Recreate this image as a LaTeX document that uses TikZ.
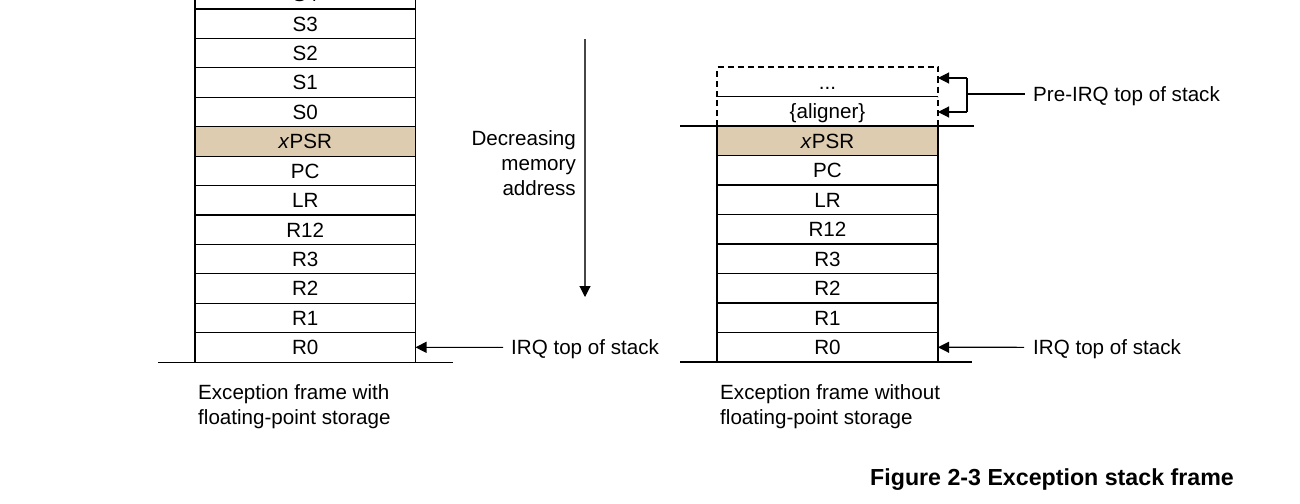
\documentclass[tikz,border=0pt]{standalone}
\usepackage{fontspec}
\setmainfont{Liberation Sans}
\usetikzlibrary{arrows.meta}
\definecolor{psr}{RGB}{221,204,176}
\definecolor{shaft}{RGB}{70,70,70}
\begin{document}
\begin{tikzpicture}[x=1pt,y=-1pt,
  txt/.style={font=\fontsize{20.6}{25}\selectfont},
  cell/.style={txt,draw=black,line width=1.1pt,minimum width=220.5pt,minimum height=29.45pt,inner sep=0pt,outer sep=0pt,text height=14.7pt,text depth=0pt},
  ghost/.style={txt,minimum width=221pt,minimum height=29.5pt,inner sep=0pt,outer sep=0pt,text height=14.7pt,text depth=0pt},
  lbl/.style={txt,inner sep=0pt,text height=14.7pt,text depth=0pt},
  multi/.style={txt,inner sep=0pt},
  dashline/.style={line width=1.1pt,dash pattern=on 6pt off 4pt},
  base/.style={line width=1.1pt},
  arr/.style={line width=1.1pt,-{Triangle[length=11pt,width=11pt]}}]
\useasboundingbox (0,0) rectangle (1300,503);
\clip (0,0) rectangle (1300,503);
% left stack
\node[cell] (lS4) at (305.25,-5.71) {S4};
\node[cell] (lS3) at (305.25,23.71) {S3};
\node[cell] (lS2) at (305.25,53.13) {S2};
\node[cell] (lS1) at (305.25,82.55) {S1};
\node[cell] (lS0) at (305.25,111.97) {S0};
\node[cell,fill=psr] (lPSR) at (305.25,141.39) {\textit{x}PSR};
\node[cell] (lPC) at (305.25,170.81) {PC};
\node[cell] (lLR) at (305.25,200.23) {LR};
\node[cell] (lR12) at (305.25,229.65) {R12};
\node[cell] (lR3) at (305.25,259.07) {R3};
\node[cell] (lR2) at (305.25,288.49) {R2};
\node[cell] (lR1) at (305.25,317.91) {R1};
\node[cell] (lR0) at (305.25,347.33) {R0};
\draw[base] ([xshift=-37pt]lR0.south west) -- ([xshift=37pt]lR0.south east);
% right stack
\node[ghost] (rD) at (827.5,81.75) {...};
\node[ghost] (rA) at (827.5,111.25) {\{aligner\}};
\node[cell,minimum width=221pt,minimum height=29.5pt,fill=psr] (rPSR) at (827.5,140.75) {\textit{x}PSR};
\node[cell,minimum width=221pt,minimum height=29.5pt] (rPC) at (827.5,170.25) {PC};
\node[cell,minimum width=221pt,minimum height=29.5pt] (rLR) at (827.5,199.75) {LR};
\node[cell,minimum width=221pt,minimum height=29.5pt] (rR12) at (827.5,229.25) {R12};
\node[cell,minimum width=221pt,minimum height=29.5pt] (rR3) at (827.5,258.75) {R3};
\node[cell,minimum width=221pt,minimum height=29.5pt] (rR2) at (827.5,288.25) {R2};
\node[cell,minimum width=221pt,minimum height=29.5pt] (rR1) at (827.5,317.75) {R1};
\node[cell,minimum width=221pt,minimum height=29.5pt] (rR0) at (827.5,347.25) {R0};
\draw[dashline] (rD.south west) -- (rD.north west) -- (rD.north east) -- (rD.south east);
\draw[dashline] (rA.south west) -- (rA.north west);
\draw[dashline] (rA.south east) -- (rA.north east);
\draw[line width=0.8pt] (rD.south west) -- (rD.south east);
\draw[base] ([xshift=-37pt]rA.south west) -- ([xshift=36pt]rA.south east);
\draw[base] ([xshift=-37pt]rR0.south west) -- ([xshift=34pt]rR0.south east);
% direction arrow
\node[multi,anchor=east,align=right] (dec) at (576,163) {Decreasing\\memory\\address};
\coordinate (atop) at (585,39);
\coordinate (abot) at (585,297);
\draw[line width=1.1pt,draw=shaft,-{Triangle[length=11pt,width=11pt,color=black]}] (atop) -- (abot);
% IRQ labels
\node[lbl,anchor=west] (irqL) at (511,347.3) {IRQ top of stack};
\draw[arr] ([xshift=-8pt]irqL.west) -- (lR0.east);
\node[lbl,anchor=west] (irqR) at (1033,347.3) {IRQ top of stack};
\draw[arr] ([xshift=-9pt]irqR.west) -- (rR0.east);
% Pre-IRQ bracket
\node[lbl,anchor=west] (pre) at (1033,94) {Pre-IRQ top of stack};
\coordinate (bk1) at (967,78);
\coordinate (bk2) at (967,112);
\coordinate (bkm) at (967,94);
\draw[base] (bk1) -- (bk2);
\draw[arr] (bk1) -- (rD.east |- bk1);
\draw[arr] (bk2) -- (rA.east |- bk2);
\draw[base] (bkm) -- ([xshift=-8pt]pre.west);
% captions
\node[multi,anchor=north west,align=left] (capL) at (198,384.5) {Exception frame with\\floating-point storage};
\node[multi,anchor=north west,align=left] (capR) at (720,384.5) {Exception frame without\\floating-point storage};
\node[inner sep=0pt,anchor=west,font=\bfseries\fontsize{23.2}{28}\selectfont,text height=16.6pt,text depth=0pt] (fig) at (870,477.5) {Figure 2-3 Exception stack frame};
\end{tikzpicture}
\end{document}
